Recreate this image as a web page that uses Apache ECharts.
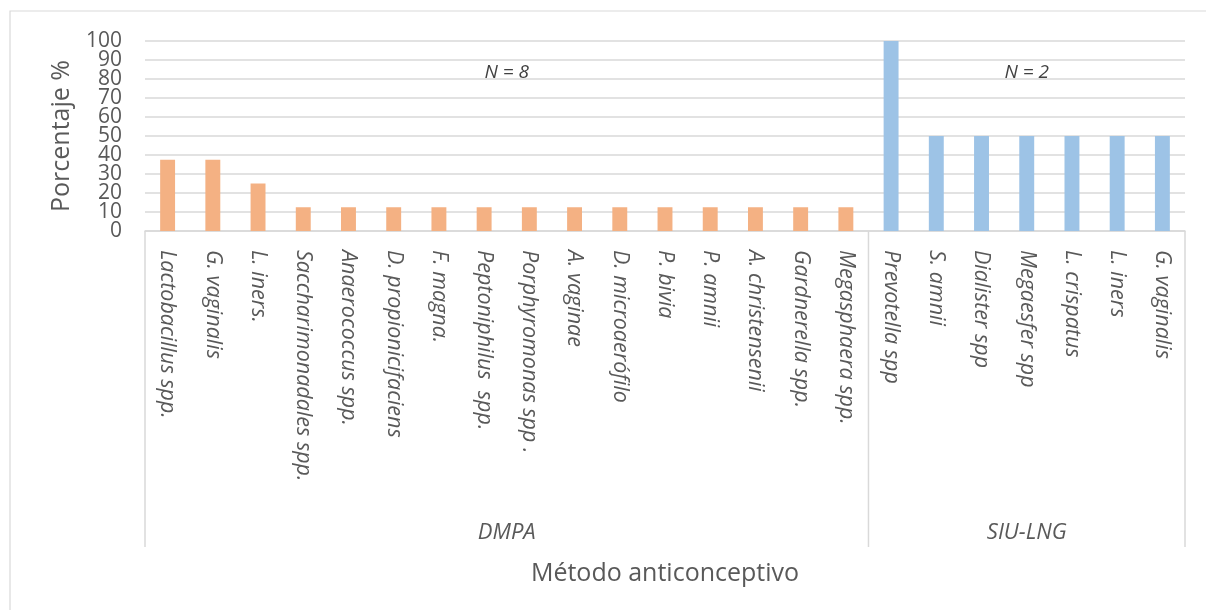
<!DOCTYPE html>
<html>
<head>
<meta charset="utf-8">
<script src="https://cdn.jsdelivr.net/npm/echarts@6/dist/echarts.min.js"></script>
<style>
  html, body { margin: 0; padding: 0; background: #fff; }
  #chart { width: 1206px; height: 610px; }
</style>
</head>
<body>
<div id="chart"></div>
<script>
// Species found per contraceptive method (percentage of patients)
const dmpaSpecies = [
  'Lactobacillus spp.', 'G. vaginalis', 'L. iners.', 'Saccharimonadales spp.',
  'Anaerococcus spp.', 'D. propionicifaciens', 'F. magna.', 'Peptoniphilus  spp.',
  'Porphyromonas spp .', 'A. vaginae', 'D. microaerófilo', 'P. bivia',
  'P. amnii', 'A. christensenii', 'Gardnerella spp.', 'Megasphaera spp.'
];
const siuSpecies = [
  'Prevotella spp', 'S. amnii', 'Dialister spp', 'Megaesfer spp',
  'L. crispatus', 'L. iners', 'G. vaginalis'
];
const dmpaValues = [37.5, 37.5, 25, 12.5, 12.5, 12.5, 12.5, 12.5, 12.5, 12.5, 12.5, 12.5, 12.5, 12.5, 12.5, 12.5];
const siuValues = [100, 50, 50, 50, 50, 50, 50];
const groupNames = ['DMPA', 'SIU-LNG'];
const groupCounts = ['N = 8', 'N = 2'];
const yTicks = [0, 10, 20, 30, 40, 50, 60, 70, 80, 90, 100];

const categories = dmpaSpecies.concat(siuSpecies);
const dmpaSeries = dmpaValues.concat(siuSpecies.map(() => null));
const siuSeries = dmpaSpecies.map(() => null).concat(siuValues);

const FONT = '"Open Sans", "Noto Sans", sans-serif';
const TEXT = '#595959';
const LINE = '#d9d9d9';

const chart = echarts.init(document.getElementById('chart'), null, { renderer: 'canvas' });

const option = {
  animation: false,
  backgroundColor: '#fff',
  textStyle: { fontFamily: FONT },
  grid: { left: 145, right: 21, top: 41, bottom: 379, containLabel: false },
  xAxis: {
    type: 'category',
    data: categories,
    axisLine: { lineStyle: { color: LINE, width: 1.5 } },
    axisTick: { show: false },
    axisLabel: {
      rotate: -90,
      interval: 0,
      margin: 19,
      fontSize: 21.5,
      fontStyle: 'italic',
      fontFamily: FONT,
      color: TEXT,
      hideOverlap: false
    }
  },
  yAxis: {
    type: 'value',
    min: yTicks[0],
    max: yTicks[yTicks.length - 1],
    interval: yTicks[1] - yTicks[0],
    name: 'Porcentaje %',
    nameLocation: 'middle',
    nameGap: 71,
    nameTextStyle: { fontSize: 25, color: TEXT, fontFamily: FONT },
    axisLine: { show: false },
    axisTick: { show: false },
    // tick labels are drawn below, every one of them, even where they touch
    axisLabel: { show: false },
    splitLine: { lineStyle: { color: LINE, width: 1.5 } }
  },
  series: [
    {
      name: groupNames[0],
      type: 'bar',
      stack: 'method',
      barWidth: '33%',
      data: dmpaSeries,
      itemStyle: { color: '#F4B183' }
    },
    {
      name: groupNames[1],
      type: 'bar',
      stack: 'method',
      barWidth: '33%',
      data: siuSeries,
      itemStyle: { color: '#9DC3E6' }
    }
  ]
};

chart.setOption(option);

// Value-axis labels, second category level (method groups), separators and counts
function buildOverlay() {
  const first = chart.convertToPixel({ xAxisIndex: 0 }, 0);
  const second = chart.convertToPixel({ xAxisIndex: 0 }, 1);
  const band = second - first;
  const base = chart.convertToPixel({ yAxisIndex: 0 }, 0);
  const nY = chart.convertToPixel({ yAxisIndex: 0 }, 83.5);
  const sepBottom = 547;
  const groupY = 533;

  const bounds = [0, dmpaSpecies.length, categories.length].map(i => first - band / 2 + i * band);
  const elements = [];

  // Outer chart frame
  elements.push({
    type: 'rect',
    shape: { x: 10, y: 11, width: 1300, height: 700 },
    style: { fill: 'none', stroke: LINE, lineWidth: 1.2 },
    silent: true
  });

  yTicks.forEach(v => {
    elements.push({
      type: 'text',
      x: bounds[0] - 23,
      y: chart.convertToPixel({ yAxisIndex: 0 }, v),
      style: {
        text: String(v), fill: TEXT, font: '21px ' + FONT,
        align: 'right', verticalAlign: 'middle'
      },
      silent: true
    });
  });

  bounds.forEach(x => {
    elements.push({
      type: 'line',
      shape: { x1: x, y1: base, x2: x, y2: sepBottom },
      style: { stroke: LINE, lineWidth: 1.5 },
      silent: true
    });
  });

  for (let g = 0; g < 2; g++) {
    const cx = (bounds[g] + bounds[g + 1]) / 2;
    elements.push({
      type: 'text',
      x: cx, y: groupY,
      style: {
        text: groupNames[g], fill: TEXT, font: 'italic 22px ' + FONT,
        align: 'center', verticalAlign: 'middle'
      },
      silent: true
    });
    elements.push({
      type: 'text',
      x: cx, y: nY,
      style: {
        text: groupCounts[g], fill: '#404040', font: 'italic 19px ' + FONT,
        align: 'center', verticalAlign: 'middle'
      },
      silent: true
    });
  }

  // Axis title for the category axis
  elements.push({
    type: 'text',
    x: (bounds[0] + bounds[2]) / 2, y: 574,
    style: {
      text: 'Método anticonceptivo', fill: TEXT, font: '25px ' + FONT,
      align: 'center', verticalAlign: 'middle'
    },
    silent: true
  });

  chart.setOption({ graphic: { elements: elements } });
}

buildOverlay();
</script>
</body>
</html>
